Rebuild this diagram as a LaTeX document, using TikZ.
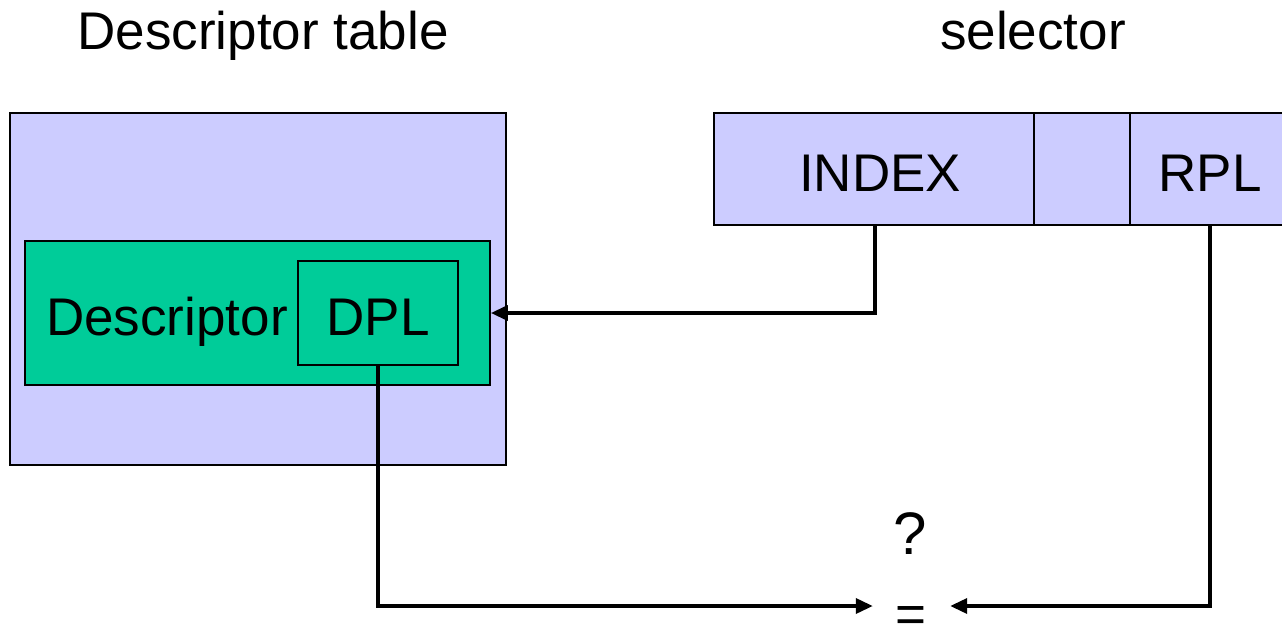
\documentclass[tikz,border=0pt]{standalone}
\usepackage{fontspec}
\setmainfont{Liberation Sans}
\usetikzlibrary{arrows.meta}
\definecolor{lav}{HTML}{CCCCFF}
\definecolor{grn}{HTML}{00CC99}
\begin{document}
\begin{tikzpicture}[x=1pt,y=-1pt,
  every node/.style={font=\fontsize{53}{60}\selectfont},
  boxstyle/.style={draw=black,line width=1.8pt,inner sep=0pt,rectangle},
  lbl/.style={anchor=base,inner sep=0pt},
  conn/.style={line width=3.5pt,-{Triangle[length=17pt,width=15pt]}}]
\useasboundingbox (0,0) rectangle (1282,626);
% titles
\node[lbl] (ttable) at (263,50) {Descriptor table};
\node[lbl] (tsel) at (1033,50) {selector};
% descriptor table
\node[boxstyle,fill=lav,minimum width=496pt,minimum height=352pt] (table) at (258,289) {};
\node[boxstyle,fill=grn,minimum width=465pt,minimum height=144pt] (desc) at (257.5,313) {};
\node[boxstyle,fill=grn,minimum width=160pt,minimum height=104pt] (dpl) at (378,313) {};
\node[lbl] (desctext) at (167,335) {Descriptor};
\node[lbl] (dpltext) at (378,335) {DPL};
% selector
\node[boxstyle,fill=lav,minimum width=320pt,minimum height=112pt] (index) at (874,169) {};
\node[boxstyle,fill=lav,minimum width=96pt,minimum height=112pt] (mid) at (1082,169) {};
\node[boxstyle,fill=lav,minimum width=156pt,minimum height=112pt] (rpl) at (1208,169) {};
\node[lbl] (indextext) at (880,191) {INDEX};
\node[lbl] (rpltext) at (1210,191) {RPL};
% comparison
\node[inner sep=0pt,minimum width=77pt,minimum height=1pt] (eq) at (911.5,606) {};
\node[lbl] (eqtext) at (911,632) {=};
\node[lbl,font=\fontsize{60}{66}\selectfont] (q) at (910,554) {?};
% connectors
\coordinate (ib) at (875,225);
\coordinate (db) at (378,365);
\coordinate (rb) at (1210,225);
\draw[conn] (ib) |- (desc.east);
\draw[conn] (db) |- (eq.west);
\draw[conn] (rb) |- (eq.east);
\end{tikzpicture}
\end{document}
